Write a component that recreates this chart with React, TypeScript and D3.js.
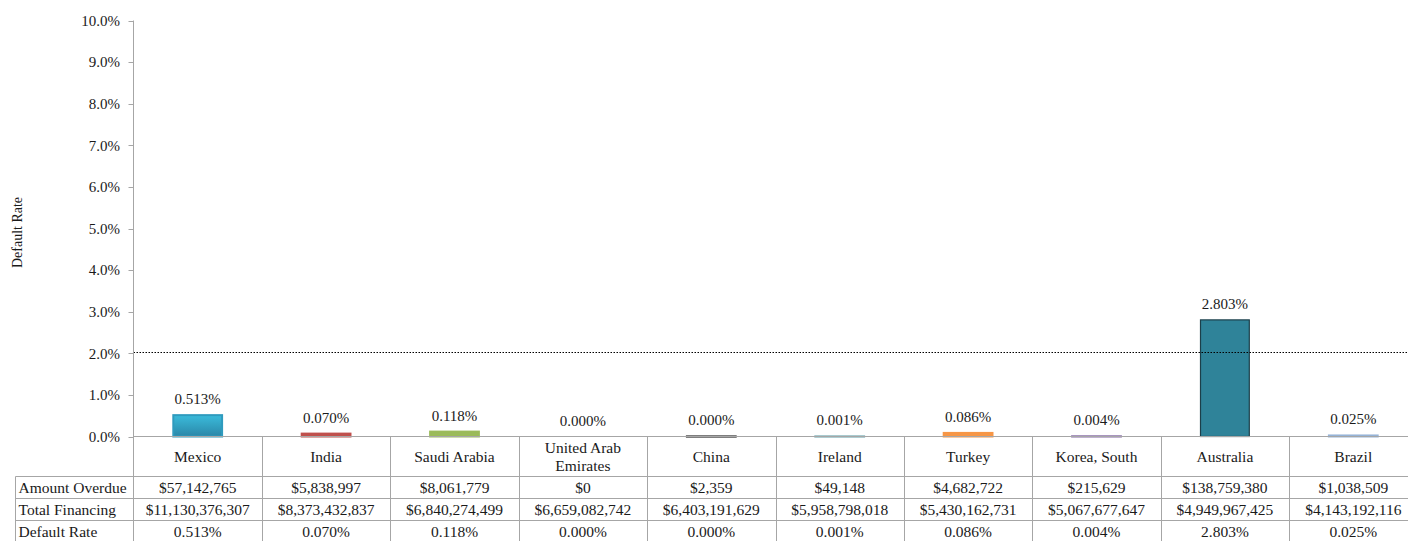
import React from "react";
import * as d3 from "d3";

const countries = ["Mexico", "India", "Saudi Arabia", "United Arab Emirates", "China", "Ireland", "Turkey", "Korea, South", "Australia", "Brazil"];
const categoryLines = [["Mexico"], ["India"], ["Saudi Arabia"], ["United Arab", "Emirates"], ["China"], ["Ireland"], ["Turkey"], ["Korea, South"], ["Australia"], ["Brazil"]];
const amountOverdue = [57142765, 5838997, 8061779, 0, 2359, 49148, 4682722, 215629, 138759380, 1038509];
const totalFinancing = [11130376307, 8373432837, 6840274499, 6659082742, 6403191629, 5958798018, 5430162731, 5067677647, 4949967425, 4143192116];
const barColors = ["url(#mexGrad)", "#C0504D", "#9BBB59", "#4BACC6", "#000000", "#5F9CA6", "#F79646", "#8064A2", "#2F8399", "#95B3D7"];
const barStrokes = ["#2F9BBE", "#C0504D", "#9BBB59", "#4BACC6", "#000000", "#5F9CA6", "#F79646", "#8064A2", "#1C3F4A", "#95B3D7"];
const yTicks = [0, 1, 2, 3, 4, 5, 6, 7, 8, 9, 10];
const thresholdRate = 2.0;
const rowLabels = ["Amount Overdue", "Total Financing", "Default Rate"];

const rates = amountOverdue.map((a, i) => (a / totalFinancing[i]) * 100);

const W = 1408;
const H = 541;
const axisX = 133.5;
const colW = 128.4;
const plotRight = axisX + colW * countries.length;
const yTop = 20.5;
const yZero = 436.5;
const tableLeft = 15.5;
const rowTops = [476.5, 498.5, 520.5, 542.5];
const FONT = '"Liberation Serif"';
const GRID = "#A6A6A6";
const TXT = "#1a1a1a";
const fs = { fontFamily: FONT };

export default function App() {
  const x = d3.scaleBand<string>().domain(countries).range([axisX, plotRight]).paddingInner(0).paddingOuter(0);
  const y = d3.scaleLinear().domain([0, 10]).range([yZero, yTop]);
  const barW = x.bandwidth() * 0.38;
  const money = d3.format("$,.0f");
  const pct = (v: number) => v.toFixed(3) + "%";

  const rowValues = [amountOverdue.map(money), totalFinancing.map(money), rates.map(pct)];
  const thrY = Math.round(y(thresholdRate)) - 0.5;

  return (
    <svg width={W} height={H} style={{ position: "absolute", left: 0, top: 0, background: "#fff", fontFamily: FONT }}>
      <defs>
        <linearGradient id="mexGrad" x1="0" y1="0" x2="0" y2="1">
          <stop offset="0%" stopColor="#3BBBDB" />
          <stop offset="100%" stopColor="#2A87A8" />
        </linearGradient>
      </defs>

      {/* y-axis title */}
      <text transform={`translate(22,${(yTop + yZero) / 2 + 4}) rotate(-90)`} textAnchor="middle" fontSize={14} fill={TXT} style={fs}>
        Default Rate
      </text>

      {/* y ticks */}
      {yTicks.map((t) => (
        <g key={t}>
          <line x1={axisX - 5} x2={axisX} y1={Math.round(y(t)) + 0.5} y2={Math.round(y(t)) + 0.5} stroke={GRID} />
          <text x={120} y={y(t)} dy="0.35em" textAnchor="end" fontSize={15} fill={TXT} style={fs}>
            {t.toFixed(1)}%
          </text>
        </g>
      ))}

      {/* bars */}
      {countries.map((c, i) => {
        const v = rates[i];
        const cx = (x(c) as number) + x.bandwidth() / 2;
        return (
          <g key={c}>
            {v > 0 && (
              <rect
                x={cx - barW / 2}
                y={y(v)}
                width={barW}
                height={yZero - y(v)}
                fill={barColors[i]}
                stroke={barStrokes[i]}
                strokeWidth={i === 8 ? 1.2 : 2}
              />
            )}
            <text x={cx} y={y(v) - 11} textAnchor="middle" fontSize={15} fill={TXT} style={fs}>
              {pct(v)}
            </text>
          </g>
        );
      })}

      {/* threshold dotted line */}
      <line x1={axisX} x2={W} y1={thrY} y2={thrY} stroke="#000" strokeWidth={1} strokeDasharray="1.5,1.5" />

      {/* axes */}
      <line x1={axisX} x2={axisX} y1={yTop} y2={H} stroke={GRID} />
      <line x1={axisX} x2={W} y1={yZero} y2={yZero} stroke={GRID} />

      {/* table grid */}
      {countries.slice(1).map((c) => {
        const gx = Math.round(x(c) as number) + 0.5;
        return <line key={c} x1={gx} x2={gx} y1={yZero} y2={H} stroke={GRID} />;
      })}
      {rowTops.slice(0, 3).map((ry, k) => (
        <line key={k} x1={tableLeft} x2={W} y1={ry} y2={ry} stroke={GRID} />
      ))}
      <line x1={tableLeft} x2={tableLeft} y1={rowTops[0]} y2={H} stroke={GRID} />

      {/* category labels */}
      {countries.map((c, i) => {
        const cx = (x(c) as number) + x.bandwidth() / 2;
        const lines = categoryLines[i];
        const mid = (yZero + rowTops[0]) / 2;
        const lh = 18;
        return (
          <text key={c} textAnchor="middle" fontSize={15.5} fill={TXT} style={fs}>
            {lines.map((ln, k) => (
              <tspan key={k} x={cx} y={mid + (k - (lines.length - 1) / 2) * lh} dy="0.35em">
                {ln}
              </tspan>
            ))}
          </text>
        );
      })}

      {/* row labels and values */}
      {rowLabels.map((lab, r) => {
        const cy = (rowTops[r] + rowTops[r + 1]) / 2;
        return (
          <g key={lab}>
            <text x={tableLeft + 3} y={cy} dy="0.35em" fontSize={15.5} fill={TXT} style={fs}>
              {lab}
            </text>
            {countries.map((c, i) => (
              <text key={c} x={(x(c) as number) + x.bandwidth() / 2} y={cy} dy="0.35em" textAnchor="middle" fontSize={15.5} fill={TXT} style={fs}>
                {rowValues[r][i]}
              </text>
            ))}
          </g>
        );
      })}
    </svg>
  );
}
